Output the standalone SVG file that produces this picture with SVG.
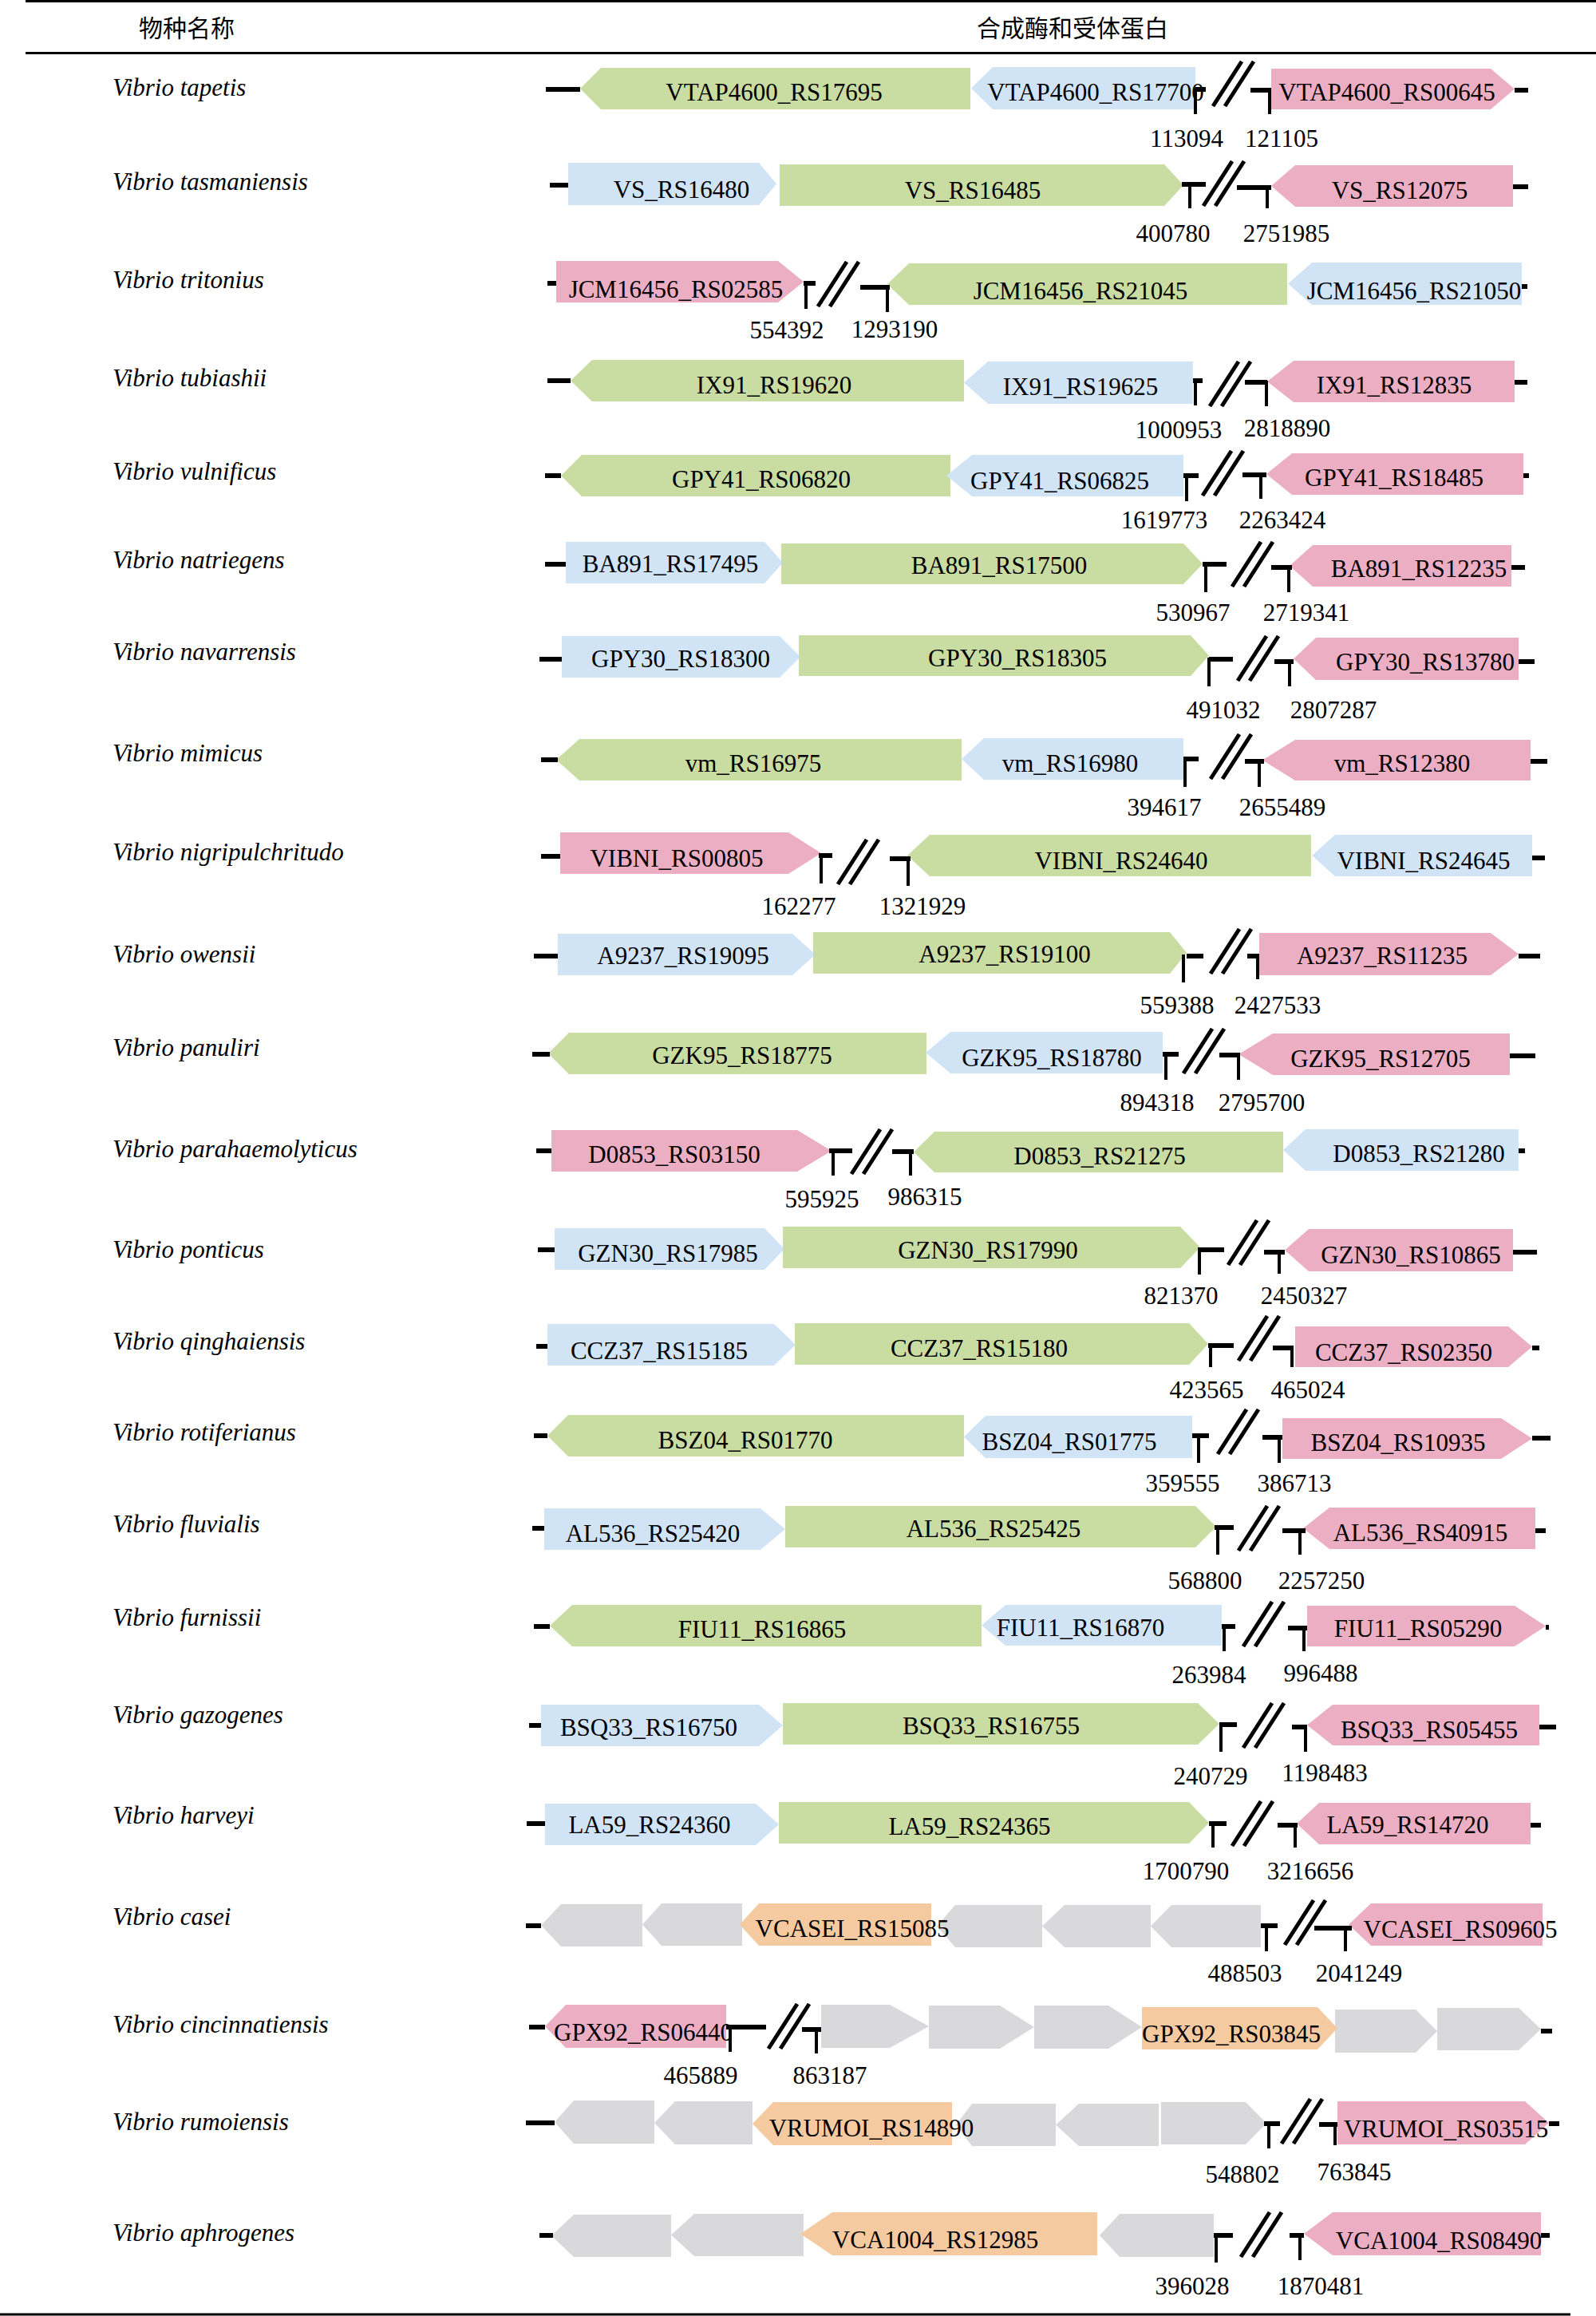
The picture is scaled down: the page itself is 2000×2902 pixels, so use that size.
<svg xmlns="http://www.w3.org/2000/svg" width="2000" height="2902" viewBox="0 0 2000 2902">
<style>
.g{fill:#c9dca1}.b{fill:#d0e4f6}.p{fill:#ecaec3}.o{fill:#f5caa1}.n{fill:#d9d8da}
text{font-family:"Liberation Serif","Times New Roman",serif;font-size:31px;fill:#000}
.t,.num{text-anchor:middle}
.s{font-style:italic}
.h{font-family:"Noto Sans CJK SC","Noto Sans",sans-serif;font-size:30px;text-anchor:middle}
.bar{stroke:#000;stroke-width:6;fill:none}
.tk{stroke:#000;stroke-width:4;fill:none}
.rule{stroke:#000;stroke-width:3}
</style>
<defs>
<g id="sl" stroke="#000" stroke-width="5"><line x1="5" y1="28" x2="41" y2="-28"/><line x1="20" y1="28" x2="56" y2="-28"/></g>
</defs>
<rect width="2000" height="2902" fill="#fff"/>
<g id="rules">
<line class="rule" x1="32" y1="1.5" x2="2000" y2="1.5"/>
<line class="rule" x1="32" y1="66.5" x2="2000" y2="66.5"/>
<line class="rule" x1="0" y1="2900" x2="1968" y2="2900"/>
</g>
<g id="header">
<text class="h" x="234" y="46">物种名称</text>
<text class="h" x="1344" y="46">合成酶和受体蛋白</text>
</g>
<g id="species" class="s">
<text class="s" x="141" y="120">Vibrio tapetis</text>
<text class="s" x="141" y="238">Vibrio tasmaniensis</text>
<text class="s" x="141" y="361">Vibrio tritonius</text>
<text class="s" x="141" y="484">Vibrio tubiashii</text>
<text class="s" x="141" y="601">Vibrio vulnificus</text>
<text class="s" x="141" y="712">Vibrio natriegens</text>
<text class="s" x="141" y="827">Vibrio navarrensis</text>
<text class="s" x="141" y="954">Vibrio mimicus</text>
<text class="s" x="141" y="1078">Vibrio nigripulchritudo</text>
<text class="s" x="141" y="1206">Vibrio owensii</text>
<text class="s" x="141" y="1323">Vibrio panuliri</text>
<text class="s" x="141" y="1450">Vibrio parahaemolyticus</text>
<text class="s" x="141" y="1576">Vibrio ponticus</text>
<text class="s" x="141" y="1691">Vibrio qinghaiensis</text>
<text class="s" x="141" y="1805">Vibrio rotiferianus</text>
<text class="s" x="141" y="1920">Vibrio fluvialis</text>
<text class="s" x="141" y="2037">Vibrio furnissii</text>
<text class="s" x="141" y="2159">Vibrio gazogenes</text>
<text class="s" x="141" y="2285">Vibrio harveyi</text>
<text class="s" x="141" y="2412">Vibrio casei</text>
<text class="s" x="141" y="2547">Vibrio cincinnatiensis</text>
<text class="s" x="141" y="2669">Vibrio rumoiensis</text>
<text class="s" x="141" y="2808">Vibrio aphrogenes</text>
</g>
<g id="genes">
<g id="VTAP4600_RS17695"><polygon class="g" points="727,111 753,85 1216,85 1216,137 753,137"/><text class="t" x="970" y="126">VTAP4600_RS17695</text></g>
<g id="VTAP4600_RS17700"><polygon class="b" points="1217,110.5 1244,84 1498,84 1498,137 1244,137"/><text class="t" x="1373" y="126">VTAP4600_RS17700</text></g>
<g id="VTAP4600_RS00645"><polygon class="p" points="1593,86 1868,86 1898,111.5 1868,137 1593,137"/><text class="t" x="1738" y="126">VTAP4600_RS00645</text></g>

<g id="VS_RS16480"><polygon class="b" points="712,204 951,204 973,230.5 951,257 712,257"/><text class="t" x="854" y="248">VS_RS16480</text></g>
<g id="VS_RS16485"><polygon class="g" points="977,206 1459,206 1483,232 1459,258 977,258"/><text class="t" x="1219" y="249">VS_RS16485</text></g>
<g id="VS_RS12075"><polygon class="p" points="1593,233 1623,207 1896,207 1896,259 1623,259"/><text class="t" x="1754" y="249">VS_RS12075</text></g>

<g id="JCM16456_RS02585"><polygon class="p" points="697,327 975,327 1007,353 975,379 697,379"/><text class="t" x="847" y="373">JCM16456_RS02585</text></g>
<g id="JCM16456_RS21045"><polygon class="g" points="1112,356 1139,330 1613,330 1613,382 1139,382"/><text class="t" x="1354" y="375">JCM16456_RS21045</text></g>
<g id="JCM16456_RS21050"><polygon class="b" points="1614,355.5 1644,329 1907,329 1907,382 1644,382"/><text class="t" x="1772" y="375">JCM16456_RS21050</text></g>

<g id="IX91_RS19620"><polygon class="g" points="715,477 742,451 1208,451 1208,503 742,503"/><text class="t" x="970" y="493">IX91_RS19620</text></g>
<g id="IX91_RS19625"><polygon class="b" points="1208,479.5 1238,453 1495,453 1495,506 1238,506"/><text class="t" x="1354" y="495">IX91_RS19625</text></g>
<g id="IX91_RS12835"><polygon class="p" points="1588,478 1621,452 1898,452 1898,504 1621,504"/><text class="t" x="1747" y="493">IX91_RS12835</text></g>

<g id="GPY41_RS06820"><polygon class="g" points="703,596 729,570 1191,570 1191,622 729,622"/><text class="t" x="954" y="611">GPY41_RS06820</text></g>
<g id="GPY41_RS06825"><polygon class="b" points="1186,596 1218,570 1483,570 1483,622 1218,622"/><text class="t" x="1328" y="613">GPY41_RS06825</text></g>
<g id="GPY41_RS18485"><polygon class="p" points="1587,594 1619,568 1909,568 1909,620 1619,620"/><text class="t" x="1747" y="609">GPY41_RS18485</text></g>

<g id="BA891_RS17495"><polygon class="b" points="709,679 958,679 981,705 958,731 709,731"/><text class="t" x="840" y="717">BA891_RS17495</text></g>
<g id="BA891_RS17500"><polygon class="g" points="979,681 1483,681 1507,706.5 1483,732 979,732"/><text class="t" x="1252" y="719">BA891_RS17500</text></g>
<g id="BA891_RS12235"><polygon class="p" points="1616,709 1645,683 1894,683 1894,735 1645,735"/><text class="t" x="1778" y="723">BA891_RS12235</text></g>

<g id="GPY30_RS18300"><polygon class="b" points="704,797 977,797 1003,823 977,849 704,849"/><text class="t" x="853" y="836">GPY30_RS18300</text></g>
<g id="GPY30_RS18305"><polygon class="g" points="1001,796 1492,796 1515,821.5 1492,847 1001,847"/><text class="t" x="1275" y="835">GPY30_RS18305</text></g>
<g id="GPY30_RS13780"><polygon class="p" points="1621,825.5 1649,799 1903,799 1903,852 1649,852"/><text class="t" x="1786" y="840">GPY30_RS13780</text></g>

<g id="vm_RS16975"><polygon class="g" points="697,952 726,926 1205,926 1205,978 726,978"/><text class="t" x="944" y="967">vm_RS16975</text></g>
<g id="vm_RS16980"><polygon class="b" points="1205,951 1233,925 1483,925 1483,977 1233,977"/><text class="t" x="1341" y="967">vm_RS16980</text></g>
<g id="vm_RS12380"><polygon class="p" points="1582,952.5 1623,927 1918,927 1918,978 1623,978"/><text class="t" x="1757" y="967">vm_RS12380</text></g>

<g id="VIBNI_RS00805"><polygon class="p" points="702,1043 988,1043 1029,1069 988,1095 702,1095"/><text class="t" x="848" y="1086">VIBNI_RS00805</text></g>
<g id="VIBNI_RS24640"><polygon class="g" points="1137,1072 1165,1046 1643,1046 1643,1098 1165,1098"/><text class="t" x="1405" y="1089">VIBNI_RS24640</text></g>
<g id="VIBNI_RS24645"><polygon class="b" points="1644,1072 1673,1046 1920,1046 1920,1098 1673,1098"/><text class="t" x="1784" y="1089">VIBNI_RS24645</text></g>

<g id="A9237_RS19095"><polygon class="b" points="699,1170 993,1170 1022,1196 993,1222 699,1222"/><text class="t" x="856" y="1208">A9237_RS19095</text></g>
<g id="A9237_RS19100"><polygon class="g" points="1019,1168 1466,1168 1487,1194 1466,1220 1019,1220"/><text class="t" x="1259" y="1206">A9237_RS19100</text></g>
<g id="A9237_RS11235"><polygon class="p" points="1578,1169 1868,1169 1903,1195.5 1868,1222 1578,1222"/><text class="t" x="1732" y="1208">A9237_RS11235</text></g>

<g id="GZK95_RS18775"><polygon class="g" points="687,1320 713,1294 1161,1294 1161,1346 713,1346"/><text class="t" x="930" y="1333">GZK95_RS18775</text></g>
<g id="GZK95_RS18780"><polygon class="b" points="1160,1319 1191,1293 1457,1293 1457,1345 1191,1345"/><text class="t" x="1318" y="1336">GZK95_RS18780</text></g>
<g id="GZK95_RS12705"><polygon class="p" points="1552,1321 1595,1295 1892,1295 1892,1347 1595,1347"/><text class="t" x="1730" y="1337">GZK95_RS12705</text></g>

<g id="D0853_RS03150"><polygon class="p" points="691,1416 999,1416 1042,1442 999,1468 691,1468"/><text class="t" x="845" y="1457">D0853_RS03150</text></g>
<g id="D0853_RS21275"><polygon class="g" points="1145,1443.5 1171,1418 1608,1418 1608,1469 1171,1469"/><text class="t" x="1378" y="1459">D0853_RS21275</text></g>
<g id="D0853_RS21280"><polygon class="b" points="1608,1441 1636,1415 1903,1415 1903,1467 1636,1467"/><text class="t" x="1778" y="1456">D0853_RS21280</text></g>

<g id="GZN30_RS17985"><polygon class="b" points="695,1539 958,1539 983,1565 958,1591 695,1591"/><text class="t" x="837" y="1581">GZN30_RS17985</text></g>
<g id="GZN30_RS17990"><polygon class="g" points="981,1537 1479,1537 1504,1563 1479,1589 981,1589"/><text class="t" x="1238" y="1577">GZN30_RS17990</text></g>
<g id="GZN30_RS10865"><polygon class="p" points="1610,1566.5 1640,1540 1896,1540 1896,1593 1640,1593"/><text class="t" x="1768" y="1583">GZN30_RS10865</text></g>

<g id="CCZ37_RS15185"><polygon class="b" points="686,1659 970,1659 997,1685 970,1711 686,1711"/><text class="t" x="826" y="1703">CCZ37_RS15185</text></g>
<g id="CCZ37_RS15180"><polygon class="g" points="996,1658 1490,1658 1514,1684 1490,1710 996,1710"/><text class="t" x="1227" y="1700">CCZ37_RS15180</text></g>
<g id="CCZ37_RS02350"><polygon class="p" points="1623,1662 1890,1662 1920,1687.5 1890,1713 1623,1713"/><text class="t" x="1759" y="1705">CCZ37_RS02350</text></g>

<g id="BSZ04_RS01770"><polygon class="g" points="686,1799 712,1773 1208,1773 1208,1825 712,1825"/><text class="t" x="934" y="1815">BSZ04_RS01770</text></g>
<g id="BSZ04_RS01775"><polygon class="b" points="1208,1800.5 1235,1774 1494,1774 1494,1827 1235,1827"/><text class="t" x="1340" y="1817">BSZ04_RS01775</text></g>
<g id="BSZ04_RS10935"><polygon class="p" points="1607,1777 1881,1777 1920,1802.5 1881,1828 1607,1828"/><text class="t" x="1752" y="1818">BSZ04_RS10935</text></g>

<g id="AL536_RS25420"><polygon class="b" points="682,1890 953,1890 984,1916 953,1942 682,1942"/><text class="t" x="818" y="1932">AL536_RS25420</text></g>
<g id="AL536_RS25425"><polygon class="g" points="984,1887 1498,1887 1524,1913 1498,1939 984,1939"/><text class="t" x="1245" y="1926">AL536_RS25425</text></g>
<g id="AL536_RS40915"><polygon class="p" points="1633,1915 1666,1889 1924,1889 1924,1941 1666,1941"/><text class="t" x="1780" y="1931">AL536_RS40915</text></g>

<g id="FIU11_RS16865"><polygon class="g" points="689,2037 717,2011 1230,2011 1230,2063 717,2063"/><text class="t" x="955" y="2052">FIU11_RS16865</text></g>
<g id="FIU11_RS16870"><polygon class="b" points="1230,2036.5 1260,2011 1531,2011 1531,2062 1260,2062"/><text class="t" x="1354" y="2050">FIU11_RS16870</text></g>
<g id="FIU11_RS05290"><polygon class="p" points="1638,2012 1898,2012 1937,2037.5 1898,2063 1638,2063"/><text class="t" x="1777" y="2051">FIU11_RS05290</text></g>

<g id="BSQ33_RS16750"><polygon class="b" points="678,2136 951,2136 981,2162 951,2188 678,2188"/><text class="t" x="813" y="2175">BSQ33_RS16750</text></g>
<g id="BSQ33_RS16755"><polygon class="g" points="981,2134 1501,2134 1528,2160 1501,2186 981,2186"/><text class="t" x="1242" y="2173">BSQ33_RS16755</text></g>
<g id="BSQ33_RS05455"><polygon class="p" points="1638,2161.5 1670,2136 1929,2136 1929,2187 1670,2187"/><text class="t" x="1791" y="2178">BSQ33_RS05455</text></g>

<g id="LA59_RS24360"><polygon class="b" points="683,2260 947,2260 976,2286 947,2312 683,2312"/><text class="t" x="814" y="2297">LA59_RS24360</text></g>
<g id="LA59_RS24365"><polygon class="g" points="976,2258 1490,2258 1515,2284 1490,2310 976,2310"/><text class="t" x="1215" y="2299">LA59_RS24365</text></g>
<g id="LA59_RS14720"><polygon class="p" points="1625,2285 1653,2259 1918,2259 1918,2311 1653,2311"/><text class="t" x="1764" y="2297">LA59_RS14720</text></g>

<g id="casei_n1"><polygon class="n" points="678,2412.5 703,2386 805,2386 805,2439 703,2439"/></g>
<g id="casei_n2"><polygon class="n" points="805,2411.5 829,2385 930,2385 930,2438 829,2438"/></g>
<g id="casei_n3"><polygon class="n" points="1174,2413.5 1197,2387 1306,2387 1306,2440 1197,2440"/></g>
<g id="casei_n4"><polygon class="n" points="1306,2413.5 1334,2387 1442,2387 1442,2440 1334,2440"/></g>
<g id="casei_n5"><polygon class="n" points="1442,2413.5 1468,2387 1580,2387 1580,2440 1468,2440"/></g>
<g id="VCASEI_RS15085"><polygon class="o" points="927,2411.5 951,2385 1167,2385 1167,2438 951,2438"/><text class="t" x="1068" y="2427">VCASEI_RS15085</text></g>
<g id="VCASEI_RS09605"><polygon class="p" points="1690,2411.5 1718,2385 1933,2385 1933,2438 1718,2438"/><text class="t" x="1830" y="2428">VCASEI_RS09605</text></g>

<g id="GPX92_RS06440"><polygon class="p" points="683,2539 709,2512 910,2512 910,2566 709,2566"/><text class="t" x="806" y="2557">GPX92_RS06440</text></g>
<g id="cinc_n1"><polygon class="n" points="1029,2512 1115,2512 1164,2539 1115,2566 1029,2566"/></g>
<g id="cinc_n2"><polygon class="n" points="1164,2513 1253,2513 1296,2540 1253,2567 1164,2567"/></g>
<g id="cinc_n3"><polygon class="n" points="1296,2513 1389,2513 1431,2540 1389,2567 1296,2567"/></g>
<g id="cinc_n4"><polygon class="n" points="1673,2518 1774,2518 1801,2545 1774,2572 1673,2572"/></g>
<g id="cinc_n5"><polygon class="n" points="1801,2516 1903,2516 1931,2542.5 1903,2569 1801,2569"/></g>
<g id="GPX92_RS03845"><polygon class="o" points="1431,2515 1651,2515 1676,2541.5 1651,2568 1431,2568"/><text class="t" x="1543" y="2559">GPX92_RS03845</text></g>

<g id="rumo_n1"><polygon class="n" points="695,2659 719,2632 820,2632 820,2686 719,2686"/></g>
<g id="rumo_n2"><polygon class="n" points="820,2660 846,2633 943,2633 943,2687 846,2687"/></g>
<g id="rumo_n3"><polygon class="n" points="1198,2662.5 1218,2636 1323,2636 1323,2689 1218,2689"/></g>
<g id="rumo_n4"><polygon class="n" points="1323,2662.5 1352,2636 1452,2636 1452,2689 1352,2689"/></g>
<g id="rumo_n5"><polygon class="n" points="1455,2634 1561,2634 1587,2660.5 1561,2687 1455,2687"/></g>
<g id="VRUMOI_RS14890"><polygon class="o" points="943,2661 969,2634 1193,2634 1193,2688 969,2688"/><text class="t" x="1092" y="2677">VRUMOI_RS14890</text></g>
<g id="VRUMOI_RS03515"><polygon class="p" points="1676,2633 1911,2633 1941,2660 1911,2687 1676,2687"/><text class="t" x="1812" y="2678">VRUMOI_RS03515</text></g>

<g id="aphr_n1"><polygon class="n" points="691,2801.5 719,2775 841,2775 841,2828 719,2828"/></g>
<g id="aphr_n2"><polygon class="n" points="841,2800.5 870,2774 1007,2774 1007,2827 870,2827"/></g>
<g id="aphr_n3"><polygon class="n" points="1378,2801 1403,2774 1521,2774 1521,2828 1403,2828"/></g>
<g id="VCA1004_RS12985"><polygon class="o" points="1003,2799 1043,2772 1375,2772 1375,2826 1043,2826"/><text class="t" x="1172" y="2817">VCA1004_RS12985</text></g>
<g id="VCA1004_RS08490"><polygon class="p" points="1634,2799 1670,2772 1931,2772 1931,2826 1670,2826"/><text class="t" x="1803" y="2818">VCA1004_RS08490</text></g>
</g>
<g id="connectors">
<path class="bar" d="M684 112H727M1498 112H1511M1567 113H1593M1898 113H1915
M689 232H712M1481 231H1511M1550 235H1593M1896 234H1915
M686 355H697M1007 355H1022M1078 360H1115M1907 359H1914
M686 477H715M1495 477H1507M1560 479H1588M1898 479H1914
M683 596H703M1483 596H1502M1557 595H1587M1909 596H1916
M683 707H709M1507 707H1537M1593 711H1619M1894 711H1911
M676 826H704M1515 826H1545M1597 829H1621M1903 829H1923
M678 952H699M1483 951H1502M1560 954H1584M1918 954H1939
M678 1073H702M1026 1072H1043M1115 1076H1141M1920 1075H1936
M669 1198H699M1487 1198H1508M1563 1198H1578M1903 1198H1930
M667 1321H689M1457 1321H1477M1528 1322H1554M1892 1323H1924
M672 1442H691M1039 1442H1068M1118 1443H1145M1903 1442H1911
M674 1566H695M1501 1566H1534M1584 1569H1610M1896 1569H1926
M672 1687H686M1514 1686H1546M1595 1689H1621M1920 1689H1929
M669 1799H686M1494 1799H1515M1582 1801H1607M1920 1802H1943
M667 1915H682M1522 1914H1546M1607 1918H1636M1924 1918H1937
M669 2038H689M1531 2038H1548M1614 2040H1638M1937 2039H1941
M663 2162H678M1528 2161H1550M1619 2164H1638M1929 2164H1950
M660 2285H683M1515 2285H1537M1601 2287H1626M1918 2287H1931
M659 2413H678M1580 2413H1601M1647 2416H1694
M663 2540H683M910 2540H960M1005 2543H1029M1931 2545H1945
M659 2660H695M1584 2661H1604M1653 2662H1676M1941 2661H1954
M676 2801H693M1521 2801H1545M1616 2801H1634M1931 2801H1942"/>
<path class="tk" d="M1498 110V143M1591 111V143
M1491 229V261M1588 233V261
M1010 353V387M1112 358V391
M1498 475V508M1587 477V509
M1487 594V628M1580 593V625
M1511 705V742M1615 709V742
M1515 824V860M1616 827V860
M1485 949V986M1578 952V986
M1029 1070V1107M1138 1074V1110
M1483 1196V1231M1576 1196V1227
M1461 1319V1353M1552 1320V1353
M1044 1440V1473M1141 1441V1473
M1503 1564V1597M1603 1567V1596
M1517 1684V1713M1619 1687V1713
M1502 1797V1833M1603 1799V1833
M1526 1912V1948M1629 1916V1948
M1534 2036V2069M1634 2038V2069
M1530 2159V2195M1636 2162V2195
M1520 2283V2315M1623 2285V2315
M1587 2411V2445M1686 2414V2445
M915 2538V2571M1023 2541V2573
M1590 2659V2692M1673 2660V2688
M1524 2799V2835M1629 2799V2832"/>
<use href="#sl" x="1515" y="105"/>
<use href="#sl" x="1503" y="230"/>
<use href="#sl" x="1020" y="356"/>
<use href="#sl" x="1511" y="481"/>
<use href="#sl" x="1502" y="593"/>
<use href="#sl" x="1539" y="707"/>
<use href="#sl" x="1546" y="825"/>
<use href="#sl" x="1512" y="948"/>
<use href="#sl" x="1045" y="1080"/>
<use href="#sl" x="1512" y="1192"/>
<use href="#sl" x="1478" y="1317"/>
<use href="#sl" x="1062" y="1443"/>
<use href="#sl" x="1534" y="1557"/>
<use href="#sl" x="1547" y="1677"/>
<use href="#sl" x="1521" y="1794"/>
<use href="#sl" x="1547" y="1915"/>
<use href="#sl" x="1553" y="2035"/>
<use href="#sl" x="1553" y="2162"/>
<use href="#sl" x="1539" y="2285"/>
<use href="#sl" x="1605" y="2409"/>
<use href="#sl" x="958" y="2539"/>
<use href="#sl" x="1601" y="2658"/>
<use href="#sl" x="1550" y="2800"/>
</g>
<g id="positions">
<text class="num" x="1487" y="184">113094</text><text class="num" x="1606" y="184">121105</text>
<text class="num" x="1470" y="303">400780</text><text class="num" x="1612" y="303">2751985</text>
<text class="num" x="986" y="424">554392</text><text class="num" x="1121" y="423">1293190</text>
<text class="num" x="1477" y="549">1000953</text><text class="num" x="1613" y="547">2818890</text>
<text class="num" x="1459" y="662">1619773</text><text class="num" x="1607" y="662">2263424</text>
<text class="num" x="1495" y="778">530967</text><text class="num" x="1637" y="778">2719341</text>
<text class="num" x="1533" y="900">491032</text><text class="num" x="1671" y="900">2807287</text>
<text class="num" x="1459" y="1022">394617</text><text class="num" x="1607" y="1022">2655489</text>
<text class="num" x="1001" y="1146">162277</text><text class="num" x="1156" y="1146">1321929</text>
<text class="num" x="1475" y="1270">559388</text><text class="num" x="1601" y="1270">2427533</text>
<text class="num" x="1450" y="1392">894318</text><text class="num" x="1581" y="1392">2795700</text>
<text class="num" x="1030" y="1513">595925</text><text class="num" x="1159" y="1510">986315</text>
<text class="num" x="1480" y="1634">821370</text><text class="num" x="1634" y="1634">2450327</text>
<text class="num" x="1512" y="1752">423565</text><text class="num" x="1639" y="1752">465024</text>
<text class="num" x="1482" y="1869">359555</text><text class="num" x="1622" y="1869">386713</text>
<text class="num" x="1510" y="1991">568800</text><text class="num" x="1656" y="1991">2257250</text>
<text class="num" x="1515" y="2109">263984</text><text class="num" x="1655" y="2107">996488</text>
<text class="num" x="1517" y="2236">240729</text><text class="num" x="1660" y="2232">1198483</text>
<text class="num" x="1486" y="2355">1700790</text><text class="num" x="1642" y="2355">3216656</text>
<text class="num" x="1560" y="2483">488503</text><text class="num" x="1703" y="2483">2041249</text>
<text class="num" x="878" y="2611">465889</text><text class="num" x="1040" y="2611">863187</text>
<text class="num" x="1557" y="2735">548802</text><text class="num" x="1697" y="2732">763845</text>
<text class="num" x="1494" y="2875">396028</text><text class="num" x="1655" y="2875">1870481</text>
</g>
</svg>
